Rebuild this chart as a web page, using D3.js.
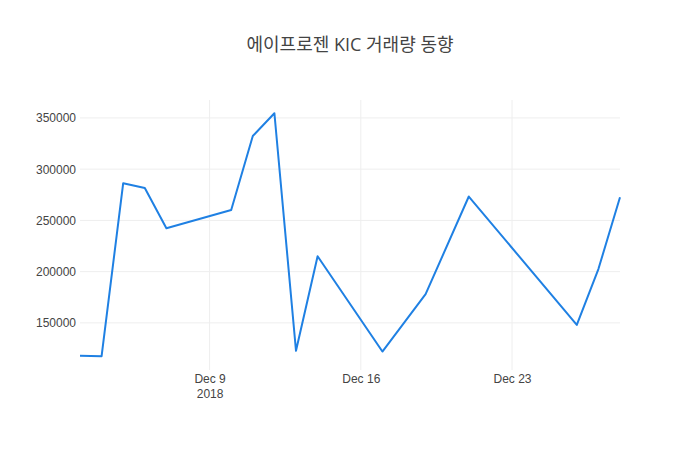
<!DOCTYPE html>
<html>
<head>
<meta charset="utf-8">
<script src="https://cdn.jsdelivr.net/npm/d3@7"></script>
<style>
  body { margin: 0; background: #fff; }
  svg { font-family: "Open Sans", "Noto Sans CJK KR", sans-serif; }
</style>
</head>
<body>
<div id="chart"></div>
<script>
var title = "에이프로젠 KIC 거래량 동향";

// trading days and volume
var dates = [
  "2018-12-03", "2018-12-04", "2018-12-05", "2018-12-06", "2018-12-07",
  "2018-12-10", "2018-12-11", "2018-12-12", "2018-12-13", "2018-12-14",
  "2018-12-17", "2018-12-19", "2018-12-21", "2018-12-26", "2018-12-27",
  "2018-12-28"
];
var volumes = [
  117800, 117500, 286300, 281700, 242400,
  260200, 332400, 354600, 122700, 215000,
  122000, 178000, 273300, 148000, 202500,
  272600
];
var yTicks = [150000, 200000, 250000, 300000, 350000];
var xTicks = ["2018-12-09", "2018-12-16", "2018-12-23"];

var width = 700,
  height = 450;
var margin = { top: 100, right: 80, bottom: 80, left: 80 };

var parse = d3.timeParse("%Y-%m-%d");
var data = dates.map(function (d, i) {
  return { date: parse(d), value: volumes[i] };
});

var svg = d3
  .select("#chart")
  .append("svg")
  .attr("width", width)
  .attr("height", height);

var x = d3
  .scaleTime()
  .domain(d3.extent(data, function (d) { return d.date; }))
  .range([margin.left, width - margin.right]);

var y = d3
  .scaleLinear()
  .domain([104000, 367500])
  .range([height - margin.bottom, margin.top]);

// grid lines
svg
  .append("g")
  .selectAll("line.ygrid")
  .data(yTicks)
  .enter()
  .append("line")
  .attr("class", "ygrid")
  .attr("x1", margin.left)
  .attr("x2", width - margin.right)
  .attr("y1", function (d) { return y(d); })
  .attr("y2", function (d) { return y(d); })
  .attr("stroke", "#eee")
  .attr("stroke-width", 1);

svg
  .append("g")
  .selectAll("line.xgrid")
  .data(xTicks.map(parse))
  .enter()
  .append("line")
  .attr("class", "xgrid")
  .attr("x1", function (d) { return x(d); })
  .attr("x2", function (d) { return x(d); })
  .attr("y1", margin.top)
  .attr("y2", height - margin.bottom)
  .attr("stroke", "#eee")
  .attr("stroke-width", 1);

// y axis labels
var yAxis = d3
  .axisLeft(y)
  .tickValues(yTicks)
  .tickSize(0)
  .tickPadding(26)
  .tickFormat(d3.format("d"));

svg
  .append("g")
  .attr("transform", "translate(" + (margin.left - 2) + ",0)")
  .call(yAxis)
  .call(function (g) { g.select(".domain").remove(); })
  .selectAll("text")
  .attr("text-anchor", "end")
  .attr("dx", "24")
  .attr("fill", "#444")
  .style("font-size", "12px");

// x axis labels
var xAxis = d3
  .axisBottom(x)
  .tickValues(xTicks.map(parse))
  .tickSize(0)
  .tickPadding(4)
  .tickFormat(d3.timeFormat("%b %-d"));

var xg = svg
  .append("g")
  .attr("transform", "translate(0," + (height - margin.bottom) + ")")
  .call(xAxis)
  .call(function (g) { g.select(".domain").remove(); });

xg.selectAll("text")
  .attr("fill", "#444")
  .style("font-size", "12px");

xg.select(".tick text")
  .append("tspan")
  .attr("x", 0)
  .attr("dy", "1.3em")
  .text("2018");

// the line
var line = d3
  .line()
  .x(function (d) { return x(d.date); })
  .y(function (d) { return y(d.value); });

svg
  .append("path")
  .datum(data)
  .attr("fill", "none")
  .attr("stroke", "#1f80e3")
  .attr("stroke-width", 2)
  .attr("stroke-linejoin", "round")
  .attr("d", line);

// title
svg
  .append("text")
  .attr("x", width / 2)
  .attr("y", 51)
  .attr("text-anchor", "middle")
  .attr("fill", "#444")
  .style("font-size", "18px")
  .text(title);
</script>
</body>
</html>
